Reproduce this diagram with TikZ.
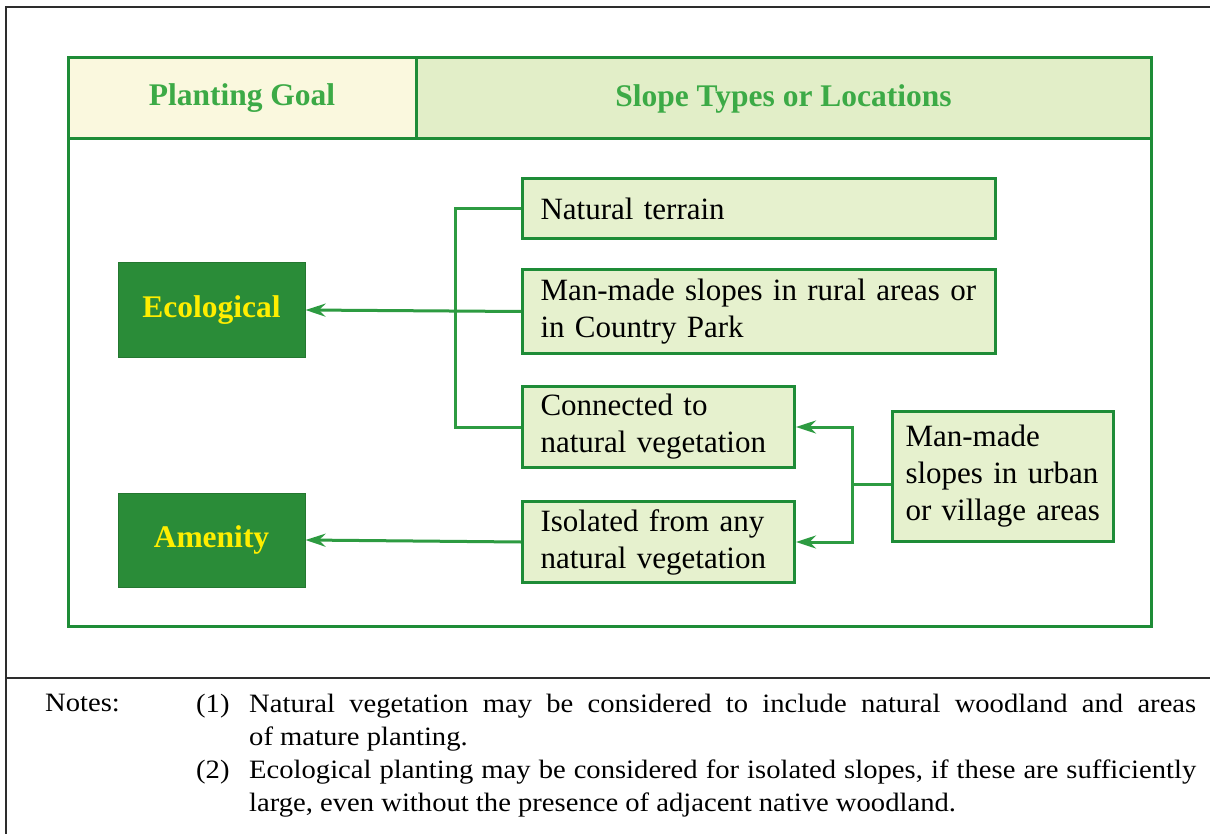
\documentclass[tikz,border=0pt]{standalone}
\usepackage{fontspec}
\setmainfont{Liberation Serif}
\newfontfamily\notefont[FakeStretch=1.08]{Liberation Serif}
\usepackage{tikz}
\usetikzlibrary{arrows.meta}
\definecolor{framecolor}{RGB}{45, 45, 45}
\definecolor{tablecolor}{RGB}{30, 140, 55}
\definecolor{linecolor}{RGB}{45, 155, 65}
\definecolor{headtext}{RGB}{60, 170, 70}
\definecolor{headleft}{RGB}{250, 248, 222}
\definecolor{headright}{RGB}{226, 238, 200}
\definecolor{boxfill}{RGB}{230, 241, 206}
\definecolor{goalfill}{RGB}{42, 140, 56}
\definecolor{goaltext}{RGB}{255, 238, 0}

\begin{document}
\begin{tikzpicture}[
			x=1pt, y=-1pt,
			headcell/.style={
				rectangle,
				draw=tablecolor,
				line width=3pt,
				minimum height=81pt,
				text=headtext,
				font=\fontsize{31.5}{37}\selectfont\bfseries
			},
			goal/.style={
				rectangle,
				fill=goalfill,
				draw=goalfill!85!black,
				line width=1pt,
				minimum width=187pt,
				minimum height=94pt,
				text=goaltext,
				font=\fontsize{31.5}{37}\selectfont\bfseries
			},
			slope/.style={
				rectangle,
				fill=boxfill,
				draw=tablecolor,
				line width=3pt,
				inner xsep=18pt,
				align=left,
				anchor=north west,
				font=\fontsize{31}{37}\selectfont
			},
			conn/.style={draw=linecolor, line width=3pt},
			arr/.style={conn, -{Stealth[length=20pt, width=13pt]}},
			notetext/.style={anchor=north west, inner sep=0pt,
				font=\notefont\fontsize{26.5}{33}\selectfont}
			]
			
			\useasboundingbox (0,0) rectangle (1210,834);
			
			% page frame
			\draw[framecolor, line width=2pt] (1210,7) -- (6,7) -- (6,834);
			\draw[framecolor, line width=2pt] (6,678) -- (1210,678);
			
			% table
			\draw[tablecolor, line width=3pt, fill=white] (68,58) rectangle (1151,626);
			\node[headcell, fill=headleft, minimum width=348pt] (hgoal) at (242,98.5)
			{Planting Goal};
			\node[headcell, fill=headright, minimum width=735pt] (hslope) at (783.5,98.5)
			{Slope Types or Locations};
			
			% planting goals
			\node[goal] (eco) at (211.5,310) {Ecological};
			\node[goal] (ame) at (211.5,540) {Amenity};
			
			% slope types
			\node[slope, text width=437pt, minimum height=60pt] (nat) at (521,177)
			{Natural terrain};
			\node[slope, text width=437pt, minimum height=84pt] (rur) at (521,268)
			{\mbox{Man-made slopes in rural areas or}\\in Country Park};
			\node[slope, text width=236pt, minimum height=81pt] (con) at (521,385)
			{Connected to\\\mbox{natural vegetation}};
			\node[slope, text width=236pt, minimum height=81pt] (iso) at (521,500)
			{\mbox{Isolated from any}\\\mbox{natural vegetation}};
			\node[slope, inner xsep=13pt, text width=195pt, minimum height=130pt] (urb) at (891,410)
			{Man-made\\\mbox{slopes in urban}\\\mbox{or village areas}};
			
			\coordinate (trunk) at (455,0);
			\coordinate (fork) at (852,0);
			\coordinate (urbout) at ([yshift=-8pt]urb.west);
			
			% connectors
			\draw[conn] (nat.west) -| (trunk |- rur.west) |- (con.west);
			\draw[arr] (rur.west) -- (eco.east);
			\draw[arr] (iso.west) -- (ame.east);
			\draw[conn] (urbout) -- (fork |- urbout);
			\draw[arr] (fork |- urbout) |- (con.east);
			\draw[arr] (fork |- urbout) |- (iso.east);
			
			% notes
			\node[notetext] (notes) at (45,694) {Notes:};
			\node[notetext] (n1) at (196,694) {(1)};
			\node[notetext, text width=947pt, align=justify] (t1) at (249,694)
			{Natural vegetation may be considered to include natural woodland and areas\linebreak of mature planting.};
			\node[notetext] (n2) at (196,760) {(2)};
			\node[notetext, text width=947pt, align=justify] (t2) at (249,760)
			{Ecological planting may be considered for isolated slopes, if these are sufficiently\linebreak large, even without the presence of adjacent native woodland.};
			
		\end{tikzpicture}
\end{document}
